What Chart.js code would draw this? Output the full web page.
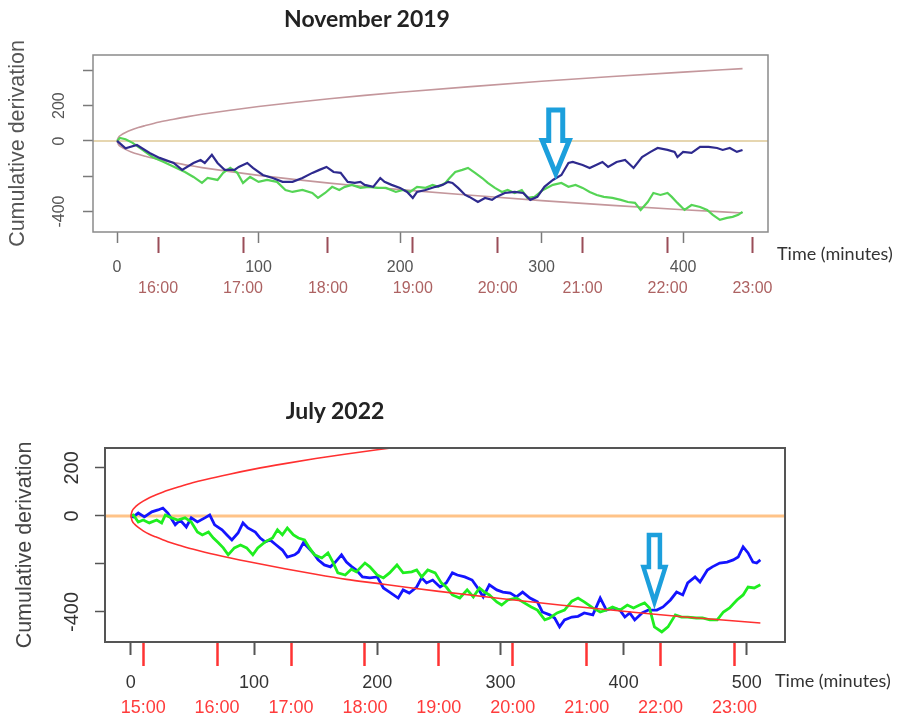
<!DOCTYPE html>
<html>
<head>
<meta charset="utf-8">
<title>Cumulative derivation</title>
<script src="https://cdn.jsdelivr.net/npm/chart.js@4.4.1/dist/chart.umd.min.js"></script>
<style>
  body { margin:0; background:#fff; width:897px; height:721px; position:relative; overflow:hidden; }
  canvas { position:absolute; left:0; }
  #nov { top:0; }
  #jul { top:380px; }
  .title { position:absolute; font-family:Lato, sans-serif; font-weight:bold; font-size:23px; color:#222; transform:translate(-50%,-50%); white-space:nowrap; }
  .xlab { position:absolute; font-family:Lato, sans-serif; font-size:18px; color:#333; white-space:nowrap; }
</style>
</head>
<body>
<canvas id="nov" width="897" height="300"></canvas>
<canvas id="jul" width="897" height="341"></canvas>
<div class="title" style="left:367px;top:18px">November 2019</div>
<div class="title" style="left:335px;top:410px">July 2022</div>
<div class="xlab" style="left:777px;top:242px">Time (minutes)</div>
<div class="xlab" style="left:775px;top:669px">Time (minutes)</div>
<script>
// ---- November 2019 (top) ----
const novMinuteTicks = [0, 100, 200, 300, 400];
const novHourTicks = [29, 89, 149, 209, 269, 329, 389, 449];
const novHourLabels = ['16:00', '17:00', '18:00', '19:00', '20:00', '21:00', '22:00', '23:00'];
const novYTicks = [400, 200, 0, -200, -400];
const novYLabels = ['', '200', '0', '', '-400'];

const novBandT = [0, 1, 3, 6, 10, 15, 20, 30, 40, 50, 60, 80, 100, 125, 150, 175, 200, 250, 300, 350, 400, 442];
const novBandUpper = [0, 20, 34, 48, 62, 76, 87, 107, 123, 138, 151, 174, 195, 218, 239, 258, 276, 308, 338, 365, 390, 410];
const novBandLower = [0, -20, -34, -48, -62, -76, -87, -107, -123, -138, -151, -174, -195, -218, -239, -258, -276, -308, -338, -365, -390, -408];

const novBlueT = [0,6,14,23,30,40,46,54,59,62,67,71,76,83,86,92,96,103,110,117,124,131,138,143,148,153,158,163,168,172,175,181,186,189,194,200,205,209,212,218,225,230,234,237,241,246,249,255,260,265,268,274,281,287,292,297,302,308,314,319,322,329,334,343,347,353,359,365,371,377,382,389,394,396,400,406,412,418,424,428,433,438,442];
const novBlueV = [0,-42,-23,-68,-96,-125,-164,-125,-108,-125,-79,-125,-164,-164,-147,-125,-153,-193,-210,-232,-232,-210,-181,-164,-147,-176,-181,-232,-238,-232,-249,-260,-210,-232,-249,-266,-289,-323,-289,-278,-260,-249,-232,-238,-266,-306,-317,-346,-323,-334,-317,-295,-289,-295,-334,-317,-260,-221,-193,-125,-119,-136,-153,-119,-147,-119,-108,-153,-91,-62,-40,-51,-62,-91,-62,-68,-34,-34,-40,-51,-40,-62,-51];

const novGreenT = [0,2,6,11,18,25,33,42,48,54,60,64,71,75,80,85,89,94,100,106,113,119,124,131,138,142,147,152,157,161,166,172,178,184,190,197,202,207,212,218,223,227,232,235,239,244,248,253,258,262,267,272,276,281,286,290,295,301,308,314,319,324,329,334,339,344,350,356,361,366,370,375,379,384,389,392,396,401,406,412,417,421,426,431,435,439,442];
const novGreenV = [0,17,10,-11,-51,-91,-119,-153,-176,-204,-238,-210,-221,-181,-153,-181,-238,-204,-232,-221,-232,-278,-289,-278,-295,-323,-295,-260,-278,-260,-249,-266,-260,-266,-266,-289,-278,-289,-260,-266,-249,-260,-238,-210,-176,-164,-153,-181,-210,-238,-266,-289,-278,-295,-278,-323,-317,-278,-249,-238,-260,-249,-266,-289,-306,-317,-323,-334,-346,-351,-391,-346,-295,-306,-295,-317,-351,-391,-363,-374,-391,-419,-447,-436,-430,-419,-402];

const novArrow = [310, 175, -185]; // minute, top value, tip value

// ---- July 2022 (bottom) ----
const julMinuteTicks = [0, 100, 200, 300, 400, 500];
const julHourTicks = [10, 70, 130, 190, 250, 310, 370, 430, 490];
const julHourLabels = ['15:00', '16:00', '17:00', '18:00', '19:00', '20:00', '21:00', '22:00', '23:00'];
const julYTicks = [200, 0, -200, -400];
const julYLabels = ['200', '0', '', '-400'];

const julBandT = [0, 1, 3, 6, 10, 15, 20, 30, 40, 50, 60, 80, 100, 125, 150, 175, 200, 225, 250, 300, 350, 400, 450, 511];
const julBandUpper = [0, 20, 34, 48, 62, 76, 87, 107, 123, 138, 151, 174, 195, 218, 239, 258, 276, 292, 308, 338, 365, 390, 414, 441];
const julBandLower = [0, -20, -34, -48, -62, -76, -87, -107, -123, -138, -151, -174, -195, -220, -243, -264, -281, -298, -314, -344, -372, -397, -421, -446];

const julBlueT = [0,2,6,11,17,22,26,30,36,40,45,49,54,60,64,68,74,78,82,87,91,95,101,105,109,113,118,123,127,133,136,140,144,148,152,157,162,166,171,175,179,183,188,194,200,205,210,217,221,226,232,236,240,245,251,256,261,265,271,277,281,286,291,297,302,308,313,318,324,330,334,340,344,348,352,358,363,368,375,381,386,391,397,401,405,409,415,420,427,432,438,443,448,452,458,462,468,472,478,484,489,493,497,501,505,508,511];
const julBlueV = [0,-4,12,-4,17,25,33,12,-37,-17,-46,-8,-25,-8,4,-37,-58,-79,-100,-71,-29,-50,-67,-92,-108,-100,-121,-142,-171,-162,-150,-112,-133,-154,-183,-204,-212,-192,-162,-192,-210,-225,-254,-258,-254,-300,-317,-342,-308,-321,-296,-258,-279,-267,-296,-279,-237,-246,-254,-267,-296,-337,-287,-308,-317,-321,-337,-317,-342,-358,-400,-412,-425,-462,-433,-421,-418,-404,-412,-342,-392,-383,-392,-421,-404,-433,-404,-392,-392,-379,-350,-317,-329,-279,-254,-275,-225,-212,-196,-192,-183,-171,-129,-154,-192,-196,-183];

const julGreenT = [0,2,6,10,15,21,25,28,33,38,44,49,54,58,63,67,71,75,79,84,89,94,99,103,109,115,119,123,127,132,136,141,145,149,155,160,164,168,174,179,183,190,194,200,205,210,216,221,228,232,236,241,247,252,256,261,267,273,278,283,287,291,297,301,306,313,318,325,330,336,340,346,352,358,363,368,375,381,386,391,397,403,408,413,417,421,425,431,436,442,447,452,459,464,470,476,481,486,492,497,501,506,511];
const julGreenV = [0,4,-25,-17,-29,-17,-29,4,-8,-17,-8,-25,-67,-79,-67,-92,-112,-133,-162,-133,-121,-133,-162,-133,-108,-92,-58,-79,-50,-79,-92,-100,-133,-162,-175,-154,-192,-237,-246,-222,-233,-196,-212,-246,-258,-237,-204,-237,-233,-225,-254,-225,-237,-279,-296,-329,-342,-308,-337,-300,-317,-329,-358,-371,-350,-342,-358,-379,-392,-433,-425,-404,-392,-355,-342,-358,-383,-400,-392,-379,-392,-371,-383,-371,-362,-383,-462,-483,-462,-412,-421,-421,-425,-425,-433,-433,-400,-383,-350,-329,-296,-300,-287];

const julArrow = [425, -79, -358];

const AXIS_FONT = "'Liberation Sans', Arial, sans-serif";

function pts(xs, ys) { return xs.map((x, i) => ({ x, y: ys[i] })); }

// box round the plot area
const boxPlugin = {
  id: 'box',
  afterDatasetsDraw(chart, args, opts) {
    const { ctx, chartArea: a } = chart;
    ctx.save();
    ctx.strokeStyle = opts.color;
    ctx.lineWidth = opts.width;
    ctx.strokeRect(a.left, a.top, a.right - a.left, a.bottom - a.top);
    ctx.restore();
  }
};

// hollow down arrow placed in data coordinates
const arrowPlugin = {
  id: 'arrowMark',
  afterDatasetsDraw(chart, args, opts) {
    if (!opts.at) return;
    const { ctx, scales: { x, y } } = chart;
    const cx = x.getPixelForValue(opts.at[0]);
    const top = y.getPixelForValue(opts.at[1]);
    const tip = y.getPixelForValue(opts.at[2]);
    const neck = top + (tip - top) * opts.neck;
    const s = opts.shaft / 2, h = opts.head / 2;
    ctx.save();
    ctx.beginPath();
    ctx.moveTo(cx - s, top);
    ctx.lineTo(cx + s, top);
    ctx.lineTo(cx + s, neck);
    ctx.lineTo(cx + h, neck);
    ctx.lineTo(cx, tip);
    ctx.lineTo(cx - h, neck);
    ctx.lineTo(cx - s, neck);
    ctx.closePath();
    ctx.fillStyle = '#fff';
    ctx.fill();
    ctx.lineJoin = 'miter';
    ctx.lineWidth = opts.lineWidth;
    ctx.strokeStyle = opts.color;
    ctx.stroke();
    ctx.restore();
  }
};

function makeChart(id, c) {
  const hourSet = new Set(c.hourTicks);
  const xTicks = c.minuteTicks.concat(c.hourTicks).sort((a, b) => a - b);
  const isHour = ctx => ctx.tick && hourSet.has(ctx.tick.value);
  const line = (data, color, width, extra) => Object.assign({
    data, borderColor: color, borderWidth: width, pointRadius: 0, tension: 0, fill: false
  }, extra || {});
  const smooth = { cubicInterpolationMode: 'monotone' };

  return new Chart(document.getElementById(id), {
    type: 'line',
    data: { datasets: c.datasets(line, smooth) },
    options: {
      responsive: false,
      animation: false,
      events: [],
      layout: { padding: c.padding },
      plugins: {
        legend: { display: false },
        tooltip: { enabled: false },
        box: { color: c.boxColor, width: c.boxWidth },
        arrowMark: { at: c.arrow, shaft: c.arrowShaft, head: c.arrowHead, neck: 0.48, lineWidth: c.arrowLine, color: '#1c9fdc' }
      },
      scales: {
        x: {
          type: 'linear', min: c.xMin, max: c.xMax,
          afterFit: s => { s.height = c.xAxisHeight; },
          afterBuildTicks: s => { s.ticks = xTicks.map(v => ({ value: v })); },
          border: { display: false },
          grid: {
            drawOnChartArea: false,
            tickLength: c.xTickLen,
            tickWidth: ctx => isHour(ctx) ? c.hourTickWidth : c.tickWidth,
            tickColor: ctx => isHour(ctx) ? c.hourTickColor : c.tickColor,
            tickBorderDash: ctx => isHour(ctx) ? c.hourDash : c.minuteDash
          },
          ticks: {
            autoSkip: false, minRotation: 0, maxRotation: 0,
            padding: c.xLabelPad,
            font: { family: AXIS_FONT, size: c.xFont, lineHeight: c.xLine },
            color: ctx => isHour(ctx) ? c.hourColor : c.labelColor,
            callback: v => hourSet.has(v) ? ['', c.hourLabels[c.hourTicks.indexOf(v)]] : [String(v), '']
          }
        },
        y: {
          type: 'linear', min: c.yMin, max: c.yMax,
          afterFit: s => { s.width = c.yAxisWidth; },
          afterBuildTicks: s => { s.ticks = c.yTicks.map(v => ({ value: v })); },
          border: { display: false },
          grid: { drawOnChartArea: false, tickLength: 10, tickWidth: 1.5, tickColor: c.tickColor },
          ticks: {
            autoSkip: false, minRotation: 90, maxRotation: 90, crossAlign: 'center',
            padding: c.yLabelPad,
            font: { family: AXIS_FONT, size: c.yFont },
            color: c.labelColor,
            callback: v => c.yLabels[c.yTicks.indexOf(v)]
          },
          title: {
            display: true, text: 'Cumulative derivation',
            font: { family: AXIS_FONT, size: 21.5 },
            color: c.titleColor,
            padding: { top: c.titlePad, bottom: 0 }
          }
        }
      }
    },
    plugins: [boxPlugin, arrowPlugin]
  });
}

makeChart('nov', {
  padding: { top: 55, right: 129, bottom: 0, left: 0 },
  xMin: -17, xMax: 460, yMin: -516, yMax: 487,
  xAxisHeight: 68, yAxisWidth: 93,
  minuteTicks: novMinuteTicks, hourTicks: novHourTicks, hourLabels: novHourLabels,
  yTicks: novYTicks, yLabels: novYLabels,
  xTickLen: 21, minuteDash: [11, 30], hourDash: [0, 5, 16, 10],
  tickWidth: 1.5, hourTickWidth: 2, tickColor: '#7a7a7a', hourTickColor: '#9a4d58',
  xFont: 16, xLine: 1.3, xLabelPad: 4, yFont: 16, yLabelPad: 7,
  labelColor: '#555', hourColor: '#ad6262', titleColor: '#555', titlePad: 5,
  boxColor: '#8a8a8a', boxWidth: 1.5,
  arrow: novArrow, arrowShaft: 14, arrowHead: 27, arrowLine: 5,
  datasets: (line, smooth) => [
    line(pts(novBlueT, novBlueV), '#2e2a8e', 2.2),
    line(pts(novGreenT, novGreenV), '#55d455', 2.2),
    line(pts(novBandT, novBandUpper), '#c4979c', 1.6, smooth),
    line(pts(novBandT, novBandLower), '#c4979c', 1.6, smooth),
    line([{ x: -17, y: 0 }, { x: 460, y: 0 }], '#e6d6b0', 2)
  ]
});

makeChart('jul', {
  padding: { top: 68, right: 112, bottom: 0, left: 0 },
  xMin: -21, xMax: 531, yMin: -525, yMax: 283,
  xAxisHeight: 79, yAxisWidth: 105,
  minuteTicks: julMinuteTicks, hourTicks: julHourTicks, hourLabels: julHourLabels,
  yTicks: julYTicks, yLabels: julYLabels,
  xTickLen: 24, minuteDash: [13, 30], hourDash: [],
  tickWidth: 2, hourTickWidth: 2.5, tickColor: '#555', hourTickColor: '#ff3333',
  xFont: 18, xLine: 1.39, xLabelPad: 5, yFont: 20, yLabelPad: 3,
  labelColor: '#333', hourColor: '#ff3b3b', titleColor: '#444', titlePad: 12,
  boxColor: '#555', boxWidth: 2,
  arrow: julArrow, arrowShaft: 11, arrowHead: 22, arrowLine: 4.5,
  datasets: (line, smooth) => [
    line(pts(julBandT, julBandUpper), '#ff3030', 1.6, smooth),
    line(pts(julBandT, julBandLower), '#ff3030', 1.6, smooth),
    line(pts(julGreenT, julGreenV), '#1fee1f', 2.8),
    line(pts(julBlueT, julBlueV), '#1414ff', 2.8),
    line([{ x: -21, y: 0 }, { x: 531, y: 0 }], '#ffc388', 3)
  ]
});
</script>
</body>
</html>
